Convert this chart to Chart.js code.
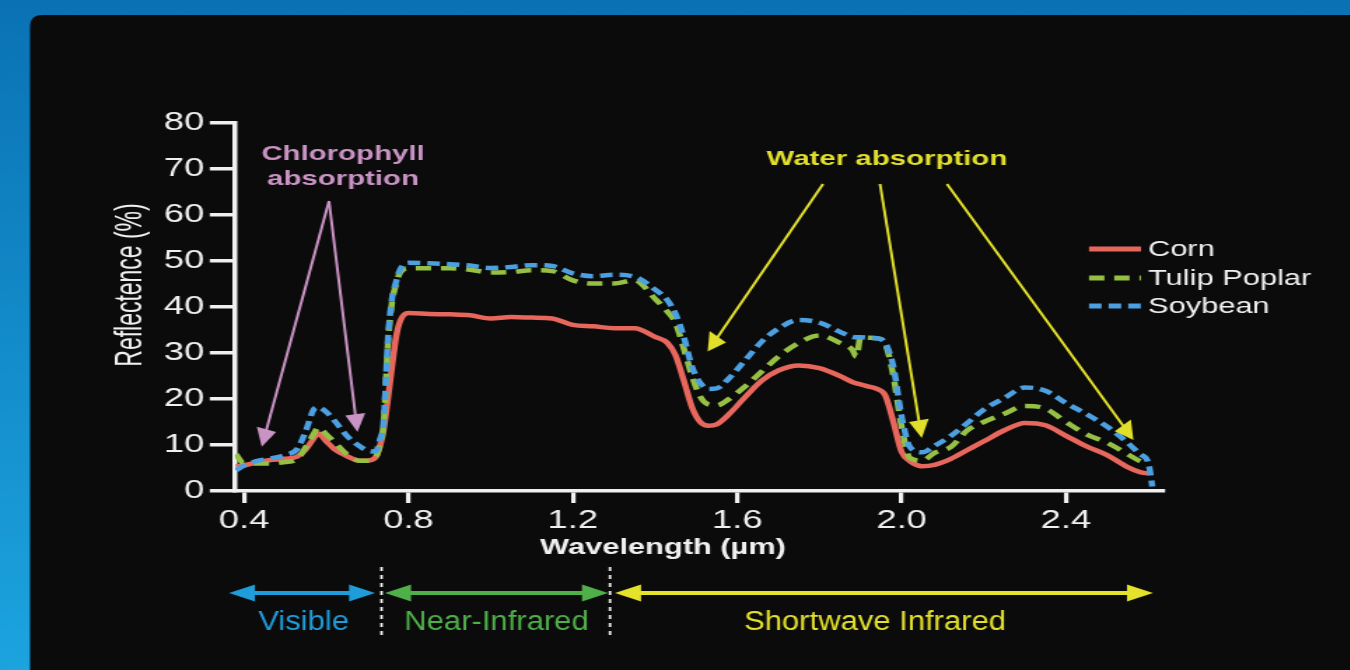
<!DOCTYPE html>
<html>
<head>
<meta charset="utf-8">
<title>Reflectance spectra</title>
<script src="https://cdn.jsdelivr.net/npm/chart.js@4.4.0/dist/chart.umd.min.js"></script>
<style>
  html, body { margin: 0; padding: 0; background: #0b0b0b; overflow: hidden; }
  #wrap { width: 1350px; height: 670px; overflow: hidden; }
  /* the source picture is stretched sideways, so the canvas is too */
  #spectra { transform: scaleX(1.4); transform-origin: 0 0; }
</style>
</head>
<body>
<div id="wrap"><canvas id="spectra" width="965" height="670"></canvas></div>
<script>
const wavelengths = [
  0.38, 0.40, 0.43, 0.46, 0.50, 0.53, 0.55, 0.57, 0.58, 0.60,
  0.62, 0.65, 0.68, 0.70, 0.72, 0.73, 0.74, 0.75, 0.76, 0.77,
  0.78, 0.80, 0.85, 0.90, 0.95, 1.00, 1.05, 1.10, 1.15, 1.20,
  1.25, 1.30, 1.35, 1.40, 1.43, 1.45, 1.47, 1.49, 1.51, 1.53,
  1.55, 1.58, 1.62, 1.66, 1.70, 1.75, 1.80, 1.85, 1.88, 1.89,
  1.90, 1.92, 1.94, 1.96, 1.98, 2.00, 2.02, 2.05, 2.08, 2.12,
  2.16, 2.20, 2.25, 2.30, 2.35, 2.40, 2.45, 2.50, 2.55, 2.58,
  2.60, 2.61
]
const corn = [
  5.3, 5.6, 6.2, 6.7, 7.0, 7.5, 9.0, 11.5, 12.5, 10.8,
  9.1, 7.6, 6.6, 6.6, 7.3, 9.5, 13.5, 20.0, 27.0, 33.5,
  37.0, 38.7, 38.5, 38.4, 38.2, 37.5, 37.8, 37.7, 37.5, 36.1,
  35.8, 35.4, 35.4, 33.5, 32.2, 29.5, 24.0, 18.2, 15.0, 14.2,
  14.5, 16.7, 20.5, 24.0, 26.2, 27.3, 26.7, 25.0, 23.7, 23.4,
  23.2, 22.7, 22.2, 20.8, 15.0, 8.5, 6.5, 5.4, 5.7, 7.0,
  8.9, 10.8, 13.2, 14.8, 14.3, 12.0, 9.7, 7.8, 5.2, 4.1,
  3.8, null
]
const tulipPoplar = [
  8.0, 6.0, 6.0, 6.0, 6.3, 7.0, 9.5, 12.5, 13.8, 12.3,
  10.6, 8.0, 6.6, 6.6, 7.3, 10.0, 15.0, 32.0, 41.0, 45.0,
  47.5, 48.4, 48.4, 48.4, 48.1, 47.5, 47.6, 48.0, 47.8, 45.8,
  45.1, 45.1, 45.8, 41.8, 39.0, 36.5, 31.0, 25.0, 20.5, 18.8,
  18.6, 20.0, 22.8, 26.0, 29.2, 32.2, 33.8, 32.2, 30.7, 29.2,
  33.4, 33.3, 33.2, 32.0, 25.0, 14.0, 7.2, 6.6, 8.3, 9.6,
  13.2, 15.0, 16.8, 18.5, 17.9, 15.0, 12.3, 10.5, 8.0, 6.5,
  6.0, null
]
const soybean = [
  4.5, 5.5, 6.5, 7.0, 7.8, 9.2, 13.0, 17.8, 18.2, 17.2,
  15.3, 12.0, 9.8, 8.8, 8.6, 11.0, 15.5, 32.8, 41.8, 45.5,
  48.2, 49.6, 49.5, 49.3, 49.0, 48.5, 48.7, 49.1, 48.9, 47.3,
  46.7, 47.0, 46.6, 43.8, 41.5, 38.5, 33.5, 27.0, 23.5, 22.2,
  22.3, 24.5, 28.5, 32.5, 35.3, 37.2, 36.6, 34.6, 33.5, 33.4,
  33.4, 33.3, 33.2, 32.2, 27.0, 16.2, 9.6, 8.4, 9.8, 12.0,
  14.8, 17.7, 20.2, 22.5, 21.8, 19.1, 16.7, 14.0, 10.5, 8.0,
  6.2, 1.0
]
const xTicks = [0.4, 0.8, 1.2, 1.6, 2.0, 2.4]
const yTicks = [0, 10, 20, 30, 40, 50, 60, 70, 80]
const chlorophyllTips = [[0.443, 9.6], [0.676, 12.8]]
const waterTips = [[1.528, 30.3], [2.049, 11.5], [2.564, 11.1]]
const regionNames = ['Visible', 'Near-Infrared', 'Shortwave Infrared']

const S = 1.4   // sideways stretch, matches the css transform
const NARROW = 0.82   // no condensed face installed, squeeze the regular one
const FONT = "'Liberation Sans', Arial, sans-serif"
const WHITE = '#f0f0f0'
const PINK = '#c993c4'
const YELLOW = '#e2df2c'
const regionColors = ['#1f9ddb', '#4fb04a', '#e4e22b']

function toPoints(values) {
    return wavelengths.map((w, i) => ({ x: w, y: values[i] }))
}

function narrowText(ctx, str, x, y, angle) {
    ctx.save()
    ctx.translate(x, y)
    if (angle) ctx.rotate(angle)
    ctx.scale(NARROW, 1)
    ctx.fillText(str, 0, 0)
    ctx.restore()
}

// arrows are worked out in on-screen pixels, then squeezed back into the canvas
function arrowHead(ctx, tx, ty, ux, uy, len, wid) {
    const bx = tx - ux * len, by = ty - uy * len
    ctx.beginPath()
    ctx.moveTo(tx / S, ty)
    ctx.lineTo((bx - uy * wid / 2) / S, by + ux * wid / 2)
    ctx.lineTo((bx + uy * wid / 2) / S, by - ux * wid / 2)
    ctx.closePath()
    ctx.fill()
}

function arrow(ctx, x1, y1, x2, y2, color, lw, len, wid, both) {
    const d = Math.hypot(x2 - x1, y2 - y1)
    const ux = (x2 - x1) / d, uy = (y2 - y1) / d
    ctx.strokeStyle = color
    ctx.fillStyle = color
    ctx.lineWidth = lw
    ctx.setLineDash([])
    const sx = both ? x1 + ux * len * 0.8 : x1
    const sy = both ? y1 + uy * len * 0.8 : y1
    ctx.beginPath()
    ctx.moveTo(sx / S, sy)
    ctx.lineTo((x2 - ux * len * 0.8) / S, y2 - uy * len * 0.8)
    ctx.stroke()
    arrowHead(ctx, x2, y2, ux, uy, len, wid)
    if (both) arrowHead(ctx, x1, y1, -ux, -uy, len, wid)
}

const decor = {
    id: 'decor',
    beforeDraw(chart) {
        const { ctx, width, height } = chart
        ctx.save()
        const g = ctx.createLinearGradient(0, 0, 0, height)
        g.addColorStop(0, '#0a72b4')
        g.addColorStop(1, '#1ca4df')
        ctx.fillStyle = g
        ctx.fillRect(0, 0, width, height)
        const x0 = 30 / S, y0 = 15, r = 12
        ctx.fillStyle = '#0b0b0b'
        ctx.beginPath()
        ctx.moveTo(x0, height)
        ctx.lineTo(x0, y0 + r)
        ctx.quadraticCurveTo(x0, y0, x0 + r / S, y0)
        ctx.lineTo(width, y0)
        ctx.lineTo(width, height)
        ctx.closePath()
        ctx.fill()
        ctx.restore()
    },
    afterDraw(chart) {
        const { ctx } = chart
        const px = w => chart.scales.x.getPixelForValue(w) * S
        const py = v => chart.scales.y.getPixelForValue(v)
        ctx.save()
        ctx.textAlign = 'center'
        ctx.textBaseline = 'alphabetic'

        // axis titles
        ctx.fillStyle = WHITE
        ctx.font = `bold 22px ${FONT}`
        ctx.fillText('Wavelength (µm)', 663 / S, 554)
        ctx.font = `28px ${FONT}`
        narrowText(ctx, 'Reflectence (%)', 141 / S, 285, -Math.PI / 2)

        // chlorophyll note
        ctx.fillStyle = PINK
        ctx.font = `bold 21px ${FONT}`
        ctx.fillText('Chlorophyll', 343 / S, 160)
        ctx.fillText('absorption', 343 / S, 185)
        for (const [w, v] of chlorophyllTips) {
            arrow(ctx, 329, 201, px(w), py(v), PINK, 2, 18, 20)
        }

        // water note
        ctx.fillStyle = YELLOW
        ctx.fillText('Water absorption', 887 / S, 165)
        const waterStarts = [823, 880, 947]
        waterTips.forEach(([w, v], i) => {
            arrow(ctx, waterStarts[i], 184, px(w), py(v), YELLOW, 2, 18, 20)
        })

        // legend
        const rows = [249, 278, 306]
        chart.data.datasets.forEach((ds, i) => {
            ctx.strokeStyle = ds.borderColor
            ctx.lineWidth = 5
            ctx.setLineDash(ds.borderDash || [])
            ctx.beginPath()
            ctx.moveTo(1089 / S, rows[i])
            ctx.lineTo(1141 / S, rows[i])
            ctx.stroke()
            ctx.setLineDash([])
            ctx.fillStyle = WHITE
            ctx.font = `22px ${FONT}`
            ctx.textAlign = 'left'
            ctx.textBaseline = 'middle'
            ctx.fillText(ds.label, 1148 / S, rows[i] + 1)
        })

        // spectral regions under the axis
        const spans = [[229, 375], [385, 608], [615, 1153]]
        const labelX = [303.5, 496.5, 875]
        ctx.textAlign = 'center'
        ctx.textBaseline = 'alphabetic'
        ctx.font = `27px ${FONT}`
        spans.forEach(([a, b], i) => {
            arrow(ctx, a, 593, b, 593, regionColors[i], 4, 26, 17, true)
            ctx.fillStyle = regionColors[i]
            narrowText(ctx, regionNames[i], labelX[i] / S, 630)
        })
        ctx.strokeStyle = WHITE
        ctx.lineWidth = 2.5 / S
        ctx.setLineDash([4, 4])
        for (const sx of [381.5, 610]) {
            ctx.beginPath()
            ctx.moveTo(sx / S, 567)
            ctx.lineTo(sx / S, 638)
            ctx.stroke()
        }
        ctx.restore()
    }
}

const tickFont = { family: FONT, size: 26 }

new Chart(document.getElementById('spectra'), {
    type: 'line',
    data: {
        datasets: [{
            label: 'Corn',
            data: toPoints(corn),
            borderColor: '#e8675d',
            order: 2,
        }, {
            label: 'Tulip Poplar',
            data: toPoints(tulipPoplar),
            borderColor: '#95c043',
            borderDash: [11, 7],
            order: 1,
        }, {
            label: 'Soybean',
            data: toPoints(soybean),
            borderColor: '#4ca0e2',
            borderDash: [9, 5],
            order: 0,
        }]
    },
    options: {
        responsive: false,
        animation: false,
        events: [],
        layout: {
            padding: { left: 0, top: 123, right: 965 - 1163 / S, bottom: 0 }
        },
        elements: {
            point: { radius: 0 },
            line: { borderWidth: 4.5, cubicInterpolationMode: 'monotone', borderJoinStyle: 'round' }
        },
        plugins: {
            legend: { display: false },
            tooltip: { enabled: false }
        },
        scales: {
            x: {
                type: 'linear',
                min: 0.378,
                max: 2.636,
                afterBuildTicks: s => { s.ticks = xTicks.map(v => ({ value: v })) },
                afterFit: s => { s.height = 670 - 491 },
                ticks: {
                    callback: v => v.toFixed(1),
                    color: WHITE,
                    font: tickFont,
                    padding: 2,
                    maxRotation: 0,
                    autoSkip: false
                },
                grid: { drawOnChartArea: false, color: WHITE, lineWidth: 3.2, tickLength: 12 },
                border: { color: WHITE, width: 3.5 }
            },
            y: {
                min: 0,
                max: 80,
                afterBuildTicks: s => { s.ticks = yTicks.map(v => ({ value: v })) },
                afterFit: s => { s.width = 235 / S },
                ticks: { color: WHITE, font: tickFont, padding: 4 },
                grid: { drawOnChartArea: false, color: WHITE, lineWidth: 3.5, tickLength: 18 },
                border: { color: WHITE, width: 3.5 }
            }
        }
    },
    plugins: [decor]
})
</script>
</body>
</html>
